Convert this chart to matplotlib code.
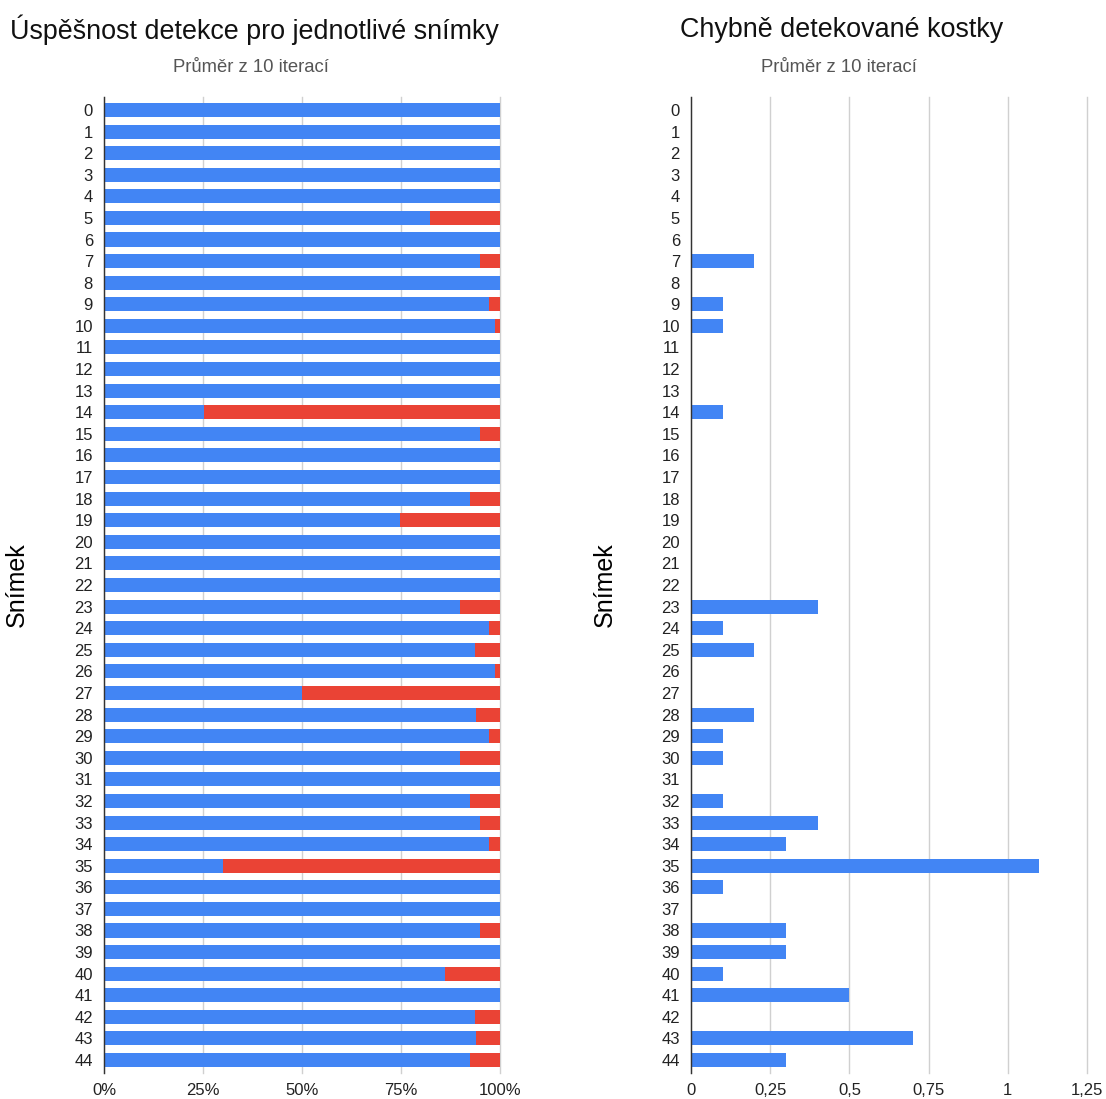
import numpy as np
import matplotlib.pyplot as plt
from matplotlib.ticker import FuncFormatter

plt.rcParams['font.family'] = ['Liberation Sans', 'DejaVu Sans']

# snímky 0..44
snimky = list(range(45))

# úspěšnost detekce v %, (zbytek do 100 % je červeně)
uspesnost = [100, 100, 100, 100, 100, 82.3, 100, 94.9, 100, 97.3,
             98.8, 100, 100, 100, 25.3, 95.0, 100, 100, 92.5, 74.8,
             100, 100, 100, 89.8, 97.3, 93.6, 98.8, 50.0, 93.9, 97.3,
             89.8, 100, 92.5, 95.0, 97.3, 30.0, 100, 100, 95.0, 100,
             86.1, 100, 93.6, 93.9, 92.5]

# chybně detekované kostky (průměr z 10 iterací)
chybne = [0, 0, 0, 0, 0, 0, 0, 0.2, 0, 0.1,
          0.1, 0, 0, 0, 0.1, 0, 0, 0, 0, 0,
          0, 0, 0, 0.4, 0.1, 0.2, 0, 0, 0.2, 0.1,
          0.1, 0, 0.1, 0.4, 0.3, 1.1, 0.1, 0, 0.3, 0.3,
          0.1, 0.5, 0, 0.7, 0.3]

BLUE = '#4285F4'
RED = '#EA4335'
GRID = '#d0d0d0'

uspesnost = np.array(uspesnost)
y = np.array(snimky)

fig = plt.figure(figsize=(11.06, 10.99), dpi=100)
W, H = 1106, 1099


def make_axes(x0, x1, y_top, y_bot):
    return fig.add_axes([x0 / W, 1 - y_bot / H, (x1 - x0) / W, (y_bot - y_top) / H])


def style(ax, xmax, ticks, fmt, label_x):
    ax.set_xlim(0, xmax)
    ax.set_ylim(44.6, -0.6)
    ax.set_xticks(ticks)
    ax.xaxis.set_major_formatter(FuncFormatter(fmt))
    ax.set_yticks(y)
    ax.set_yticklabels([str(s) for s in snimky])
    ax.tick_params(axis='both', length=0, labelsize=12, colors='#222222')
    ax.tick_params(axis='x', pad=7)
    ax.tick_params(axis='y', pad=8)
    ax.grid(axis='x', color=GRID, linewidth=1)
    for gl in ax.get_xgridlines():
        gl.set_clip_on(False)
    ax.set_axisbelow(True)
    for s in ['top', 'right', 'bottom']:
        ax.spines[s].set_visible(False)
    ax.spines['left'].set_color('#333333')
    ax.spines['left'].set_linewidth(1)
    ax.set_ylabel('Snímek', fontsize=18)
    ax.yaxis.set_label_coords(label_x, 0.5)


# levý graf
ax1 = make_axes(104, 500, 97, 1073)
ax1.barh(y, uspesnost, height=0.65, color=BLUE, zorder=2)
ax1.barh(y, 100 - uspesnost, left=uspesnost, height=0.65, color=RED, zorder=2)
style(ax1, 100, [0, 25, 50, 75, 100], lambda v, p: f'{int(v)}%', (29 - 104) / 396)

# pravý graf
ax2 = make_axes(691, 1087, 97, 1073)
ax2.barh(y, chybne, height=0.65, color=BLUE, zorder=2)
style(ax2, 1.25, [0, 0.25, 0.5, 0.75, 1, 1.25],
      lambda v, p: ('%g' % v).replace('.', ','), (617 - 691) / 396)

# titulky
fig.text(10 / W, 1 - 30 / H, 'Úspěšnost detekce pro jednotlivé snímky',
         fontsize=19.4, ha='left', va='center', color='#111111')
fig.text(251 / W, 1 - 67 / H, 'Průměr z 10 iterací',
         fontsize=13.3, ha='center', va='center', color='#555555')
fig.text(680 / W, 1 - 30 / H, 'Chybně detekované kostky',
         fontsize=19.4, ha='left', va='center', color='#111111')
fig.text(839 / W, 1 - 67 / H, 'Průměr z 10 iterací',
         fontsize=13.3, ha='center', va='center', color='#555555')

fig.savefig('out.png', dpi=100)
